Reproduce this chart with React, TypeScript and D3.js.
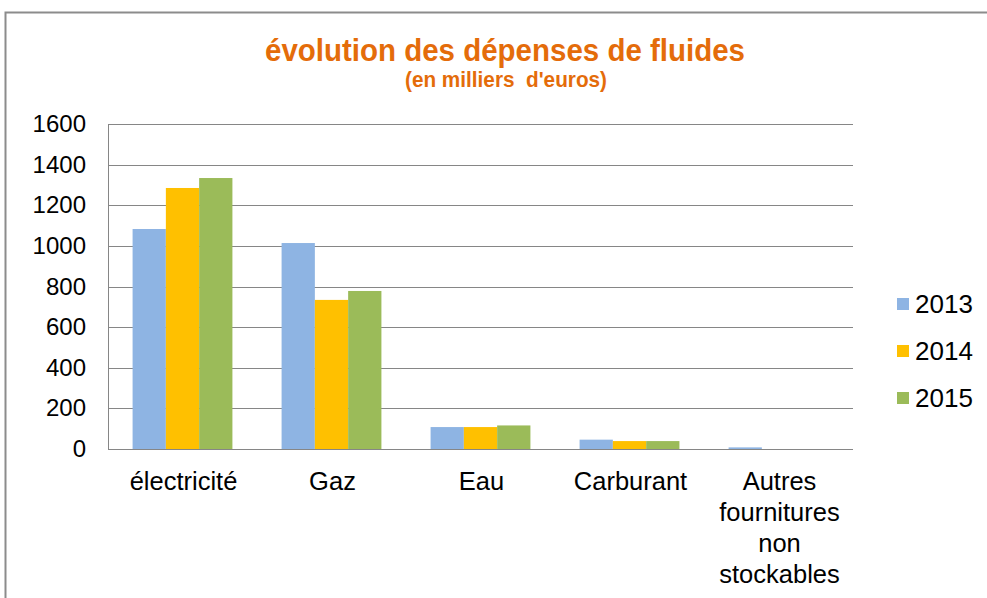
import * as d3 from 'd3'
import { useEffect, useRef } from 'react'

const categories = ['électricité', 'Gaz', 'Eau', 'Carburant', 'Autres fournitures non stockables']
const years = ['2013', '2014', '2015']
const values2013 = [1083, 1014, 108, 46, 8]
const values2014 = [1285, 734, 108, 39, 0]
const values2015 = [1334, 778, 116, 39, 0]
const yTicks = [0, 200, 400, 600, 800, 1000, 1200, 1400, 1600]
const colors = ['#8EB4E3', '#FFC000', '#9BBB59']

const width = 987
const height = 598

export default function App() {
  const ref = useRef<SVGSVGElement>(null)

  useEffect(() => {
    document.body.style.margin = '0'
    const svg = d3.select(ref.current)
    svg.selectAll('*').remove()

    const font = 'Liberation Sans, Arial, sans-serif'
    const left = 108, right = 853, top = 124, bottom = 449

    // frame
    svg.append('rect')
      .attr('x', 5.5).attr('y', 12.5)
      .attr('width', width + 20).attr('height', height + 20)
      .attr('fill', 'white').attr('stroke', '#8c8c8c').attr('stroke-width', 2)

    // titles
    svg.append('text')
      .attr('x', 505).attr('y', 61)
      .attr('text-anchor', 'middle')
      .attr('font-family', font).attr('font-weight', 'bold').attr('font-size', 32)
      .attr('fill', '#E46C0A')
      .attr('textLength', 480).attr('lengthAdjust', 'spacingAndGlyphs')
      .text('évolution des dépenses de fluides')
    svg.append('text')
      .attr('x', 506).attr('y', 87)
      .attr('text-anchor', 'middle')
      .attr('font-family', font).attr('font-weight', 'bold').attr('font-size', 22)
      .attr('fill', '#E46C0A')
      .attr('textLength', 202).attr('lengthAdjust', 'spacingAndGlyphs')
      .style('white-space', 'pre')
      .text("(en milliers  d'euros)")

    const yScale = d3.scaleLinear().domain([0, 1600]).range([bottom, top])
    const x0 = d3.scaleBand().domain(categories).range([left, right]).padding(0)
    const x1 = d3.scaleBand().domain(years)
      .range([x0.bandwidth() * 0.165, x0.bandwidth() * 0.835]).padding(0)

    // grid
    svg.append('g')
      .selectAll('line')
      .data(yTicks)
      .join('line')
      .attr('x1', left).attr('x2', right)
      .attr('y1', d => Math.round(yScale(d)) + 0.5)
      .attr('y2', d => Math.round(yScale(d)) + 0.5)
      .attr('stroke', '#868686').attr('stroke-width', 1)
    svg.append('line')
      .attr('x1', left + 0.5).attr('x2', left + 0.5)
      .attr('y1', top).attr('y2', bottom)
      .attr('stroke', '#868686')

    // y labels
    svg.append('g')
      .selectAll('text')
      .data(yTicks)
      .join('text')
      .attr('x', 86)
      .attr('y', d => yScale(d) + 8)
      .attr('text-anchor', 'end')
      .attr('font-family', font).attr('font-size', 24).attr('fill', '#000')
      .text(d => d)

    // bars
    const series = [values2013, values2014, values2015]
    series.forEach((vals, i) => {
      svg.append('g')
        .selectAll('rect')
        .data(vals)
        .join('rect')
        .attr('x', (d, j) => x0(categories[j])! + x1(years[i])!)
        .attr('y', d => yScale(d))
        .attr('width', x1.bandwidth())
        .attr('height', d => bottom - yScale(d))
        .attr('fill', colors[i])
    })

    // category labels
    const catLines = [['électricité'], ['Gaz'], ['Eau'], ['Carburant'], ['Autres', 'fournitures', 'non', 'stockables']]
    categories.forEach((c, j) => {
      const t = svg.append('text')
        .attr('x', x0(c)! + x0.bandwidth() / 2 + 1)
        .attr('y', 490)
        .attr('text-anchor', 'middle')
        .attr('font-family', font).attr('font-size', 25.5).attr('fill', '#000')
      catLines[j].forEach((line, k) => {
        t.append('tspan')
          .attr('x', x0(c)! + x0.bandwidth() / 2 + 1)
          .attr('dy', k === 0 ? 0 : 31)
          .text(line)
      })
    })

    // legend
    const legendY = [304, 351, 398]
    years.forEach((y, i) => {
      svg.append('rect')
        .attr('x', 897).attr('y', legendY[i] - 6)
        .attr('width', 12).attr('height', 12)
        .attr('fill', colors[i])
      svg.append('text')
        .attr('x', 915).attr('y', legendY[i] + 9)
        .attr('font-family', font).attr('font-size', 26).attr('fill', '#000')
        .text(y)
    })
  }, [])

  return (
    <svg ref={ref} width={width} height={height} style={{ display: 'block' }} />
  )
}
